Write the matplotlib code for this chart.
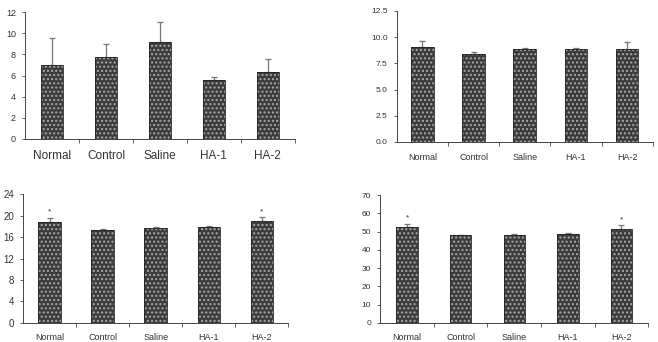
import numpy as np
import matplotlib.pyplot as plt

groups = ["Normal", "Control", "Saline", "HA-1", "HA-2"]

# panel values (mean, upper error)
vals_a = [7.0, 7.8, 9.2, 5.6, 6.3]
errs_a = [2.6, 1.15, 1.85, 0.27, 1.26]
vals_b = [9.1, 8.35, 8.83, 8.9, 8.9]
errs_b = [0.57, 0.26, 0.13, 0.06, 0.6]
vals_c = [18.85, 17.3, 17.6, 17.86, 19.04]
errs_c = [0.75, 0.25, 0.3, 0.12, 0.6]
vals_d = [52.3, 47.9, 47.9, 48.8, 51.7]
errs_d = [2.0, 0.5, 0.7, 0.4, 1.7]
stars_c = [True, False, False, False, True]
stars_d = [True, False, False, False, True]

plt.rcParams['font.family'] = ['Liberation Sans', 'DejaVu Sans']

fig = plt.figure(figsize=(6.58, 3.42), dpi=100)

panels = [
    # rect, vals, errs, ylim, yticks, ticklabel fmt, font sizes, width, stars, xpad
    ([0.038, 0.594, 0.41, 0.370], vals_a, errs_a, 12, np.arange(0, 13, 2), "{:.0f}", 6.5, 8.5, 0.41, None, 8),
    ([0.603, 0.585, 0.389, 0.383], vals_b, errs_b, 12.5, np.arange(0, 12.6, 2.5), "{:.1f}", 6, 6.5, 0.44, None, 8),
    ([0.035, 0.0556, 0.403, 0.377], vals_c, errs_c, 24, np.arange(0, 25, 4), "{:.0f}", 7, 6.5, 0.42, stars_c, 7),
    ([0.578, 0.0556, 0.407, 0.374], vals_d, errs_d, 70, np.arange(0, 71, 10), "{:.0f}", 6, 6.5, 0.40, stars_d, 7),
]

x = np.arange(len(groups))
for rect, vals, errs, ytop, yticks, fmt, yfs, xfs, w, stars, xpad in panels:
    ax = fig.add_axes(rect)
    ax.bar(x, vals, width=w, color='#3c3c3c', hatch='....', edgecolor='#aaaaaa',
           linewidth=0, zorder=2)
    ax.bar(x, vals, width=w, fill=False, edgecolor='#222222', linewidth=0.6, zorder=3)
    ax.errorbar(x, vals, yerr=[np.zeros(len(vals)), errs], fmt='none',
                ecolor='#777777', elinewidth=0.9, capsize=2.5, capthick=0.9, zorder=1)
    if stars:
        for i, s in enumerate(stars):
            if s:
                ax.text(x[i], vals[i] + errs[i] + ytop * 0.015, '*', ha='center',
                        va='bottom', fontsize=6, color='#333333')
    ax.set_xlim(-0.5, len(groups) - 0.5)
    ax.set_ylim(0, ytop)
    ax.set_yticks(yticks)
    ax.set_yticklabels([fmt.format(v) for v in yticks], fontsize=yfs, color='#333333')
    ax.set_xticks(x)
    ax.set_xticklabels(groups, fontsize=xfs, color='#333333')
    ax.tick_params(axis='x', length=0, pad=xpad)
    ax.set_xticks(np.arange(0.5, len(groups), 1), minor=True)
    ax.tick_params(axis='x', which='minor', length=3, width=0.6, color='#444444')
    ax.tick_params(axis='y', length=2.5, width=0.6, color='#444444', pad=4)
    for side in ['top', 'right']:
        ax.spines[side].set_visible(False)
    for side in ['left', 'bottom']:
        ax.spines[side].set_linewidth(0.7)
        ax.spines[side].set_color('#444444')

fig.savefig('out.png', dpi=100)
